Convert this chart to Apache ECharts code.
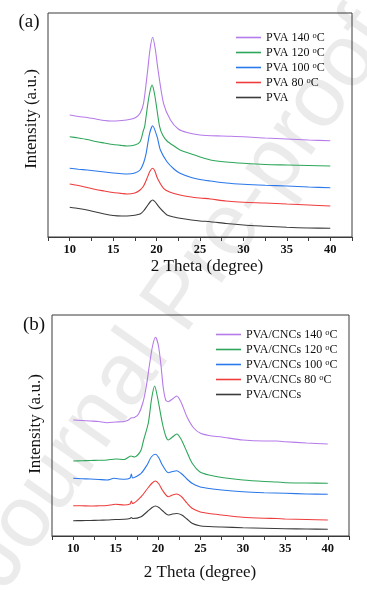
<!DOCTYPE html>
<html><head><meta charset="utf-8">
<script src="https://cdn.jsdelivr.net/npm/echarts@6/dist/echarts.min.js"></script>
<style>html,body{margin:0;padding:0;background:#fff}#c{width:367px;height:590px}</style>
</head><body><div id="c"></div>
<script>
// ---------- Data (2θ in degrees, intensity in arbitrary units) ----------
const xTicks = [10, 15, 20, 25, 30, 35, 40];
const namesA = ['PVA 140 °C', 'PVA 120 °C', 'PVA 100 °C', 'PVA 80 °C', 'PVA'];
const namesB = ['PVA/CNCs 140 °C', 'PVA/CNCs 120 °C', 'PVA/CNCs 100 °C', 'PVA/CNCs 80 °C', 'PVA/CNCs'];

const pva140 = [[10,122],[11,120.5],[12,119.5],[13,118],[14,116.5],[14.7,116],[16,116.5],[17,117.7],[17.6,119.5],[18.1,123.7],[18.5,133.7],[18.98,167],[19.25,188],[19.55,199.7],[19.85,188],[20.17,167],[20.8,133.7],[21.6,117],[22.5,108],[23.5,104.5],[25,102],[27.5,101],[30,100.3],[32.5,99],[35,98],[37.5,97],[40,96.3]];
const pva120 = [[10,100.3],[11,99],[12,97.5],[13,95.5],[14,94],[15,92.5],[16,91.5],[16.6,91],[17.5,92],[18.1,95.3],[18.5,107],[18.63,110.3],[19.0,133.7],[19.25,146],[19.48,152],[19.7,146],[19.94,133.7],[20.35,110.3],[20.7,102],[21.2,96],[22,91],[22.7,87],[24,83],[25,80],[26.2,77],[28,75],[30,73.7],[32.5,72.5],[35,72],[37.5,71.5],[40,71]];
const pva100 = [[10,68.7],[11,67.8],[12,67],[13,66],[14,65],[15,64],[16,63.3],[16.6,63],[17.5,64],[18.1,67],[18.5,74],[18.8,83.7],[19.2,103.7],[19.55,111.3],[20.06,100.3],[20.44,87],[21.2,75.3],[22,68],[22.7,63.7],[24,59.5],[25,57.5],[26.2,56],[28,54],[30,52.7],[32.5,51.7],[35,51],[37.5,50],[40,49.3]];
const pva80 = [[10,53],[11,51.5],[12,49.5],[13,47.5],[14,46],[15,44.5],[16,43.5],[16.6,43],[17.5,44],[18.1,47],[18.5,51],[18.9,58.7],[19.25,66],[19.55,68.7],[19.8,66],[20.1,58.7],[20.8,48.7],[21.5,45],[22.7,42],[24,40],[25,39],[26.2,38],[28,36],[30,34.7],[32.5,34],[35,33],[37.5,32],[40,31]];
const pva = [[10,29.7],[11,28.5],[12,27],[13,25],[14,23],[15,21.5],[16,21],[16.6,21],[17.5,21.8],[18.1,23],[18.5,26],[19,32],[19.3,35.5],[19.55,37],[19.85,35],[20.25,30.3],[20.7,26],[21.2,22],[22,20],[22.7,18.7],[24,17],[25,16],[26.2,15.3],[28,13.5],[30,12],[32.5,10.8],[35,9.7],[37.5,9],[40,8.7]];

const cnc140 = [[10,116],[11,115.5],[12,115],[13,114.5],[14,113.3],[15,114],[16,114.5],[16.5,116],[16.8,118],[17.2,118.5],[17.7,122],[18.2,133],[18.6,149],[19,172],[19.35,190],[19.7,198.7],[20.05,190],[20.35,170],[20.6,149],[20.9,136],[21.2,134.3],[21.7,137],[22.2,140],[22.7,134],[23.4,119.3],[24.2,108],[25,102.7],[26,100.5],[27.5,99],[30,96],[32.5,95],[34,95],[35,94.3],[37.5,93],[40,92]];
const cnc120 = [[10,75],[11,75.3],[12,75.5],[13,75.7],[14,76],[15,77],[16,76.5],[16.8,80],[17.2,79],[17.6,81],[18,86],[18.3,96],[18.85,113],[19.25,138],[19.6,150],[19.95,138],[20.5,113],[20.9,100],[21.2,96],[21.7,99],[22.2,102],[22.7,97],[23.4,84],[24,73],[24.9,64.3],[26,61],[27.5,58.5],[30,56],[32.5,54.5],[34,54],[35,53.3],[37.5,53],[40,52.7]];
const cnc100 = [[10,57.7],[11,57.3],[12,57],[13,56.5],[14,56],[14.8,57.7],[15.5,57],[16,56.7],[16.7,58],[16.85,62],[17,58],[18,62.7],[18.7,71],[19.2,79],[19.7,81.7],[20.1,78],[20.5,71],[21.2,63.3],[21.7,64.5],[22.2,65.3],[22.8,62],[23.4,57],[24,52.7],[24.9,49.3],[26,47.5],[27.5,46],[30,44.3],[32.5,43.3],[35,42.7],[37.5,42],[40,41.7]];
const cnc80 = [[10,30.3],[11,30.2],[12,30],[13,30.2],[14,30.5],[15,31.7],[16,31],[16.7,32],[16.85,35],[17,32.5],[18,39.3],[18.8,48],[19.3,53],[19.7,55],[20.1,52],[20.5,46],[21.2,39.3],[21.7,41],[22.2,42],[22.8,39],[23.4,33],[24,27.7],[24.9,24.3],[26,22.5],[27.5,21],[30,18.7],[32.5,17.7],[34,17.5],[35,17],[37.5,16.5],[40,16]];
const cnc = [[10,15.3],[11,15.4],[12,15.5],[13,15.7],[14,16],[15,16.5],[16,16.7],[16.7,17.5],[16.85,18.5],[17,17.5],[18,19.3],[18.8,25],[19.3,28.5],[19.7,30],[20.1,28.5],[20.5,25.5],[21.2,21],[21.7,22],[22.2,22.5],[22.8,21],[23.4,17],[24,12.7],[24.9,10.3],[26,9.5],[27.5,9],[30,8.3],[32.5,7.8],[35,7.3],[37.5,7],[40,6.7]];

const colors = ['#b57be9', '#2ea65a', '#2a78ea', '#ef3d3d', '#3b3b3b'];
const dataA = [pva140, pva120, pva100, pva80, pva];
const dataB = [cnc140, cnc120, cnc100, cnc80, cnc];

// ---------- Chart ----------
const SERIF = "'Liberation Serif','Times New Roman',serif";
const chart = echarts.init(document.getElementById('c'), null, {renderer: 'canvas'});

function xAxis(gi) {
  return {
    gridIndex: gi, type: 'value', min: 7.5, max: 42.5, interval: 2.5,
    axisLine: {show: true, lineStyle: {color: '#3a3a3a', width: 1}},
    axisTick: {show: true, inside: false, length: 4, lineStyle: {color: '#3a3a3a'}},
    splitLine: {show: false},
    axisLabel: {
      margin: 6, fontFamily: SERIF, fontWeight: 700, fontSize: 12.5, color: '#111',
      formatter: v => (xTicks.indexOf(v) >= 0 ? String(v) : '')
    }
  };
}
function yAxis(gi, max) {
  return {gridIndex: gi, type: 'value', min: 0, max: max,
    axisLine: {show: false}, axisTick: {show: false}, axisLabel: {show: false}, splitLine: {show: false}};
}
const supFmt = n => n.replace('°', '{s|o}');
function legend(top, left, names) {
  return {
    orient: 'vertical', top: top, left: left, padding: 0, itemGap: 2,
    icon: 'rect', itemWidth: 25, itemHeight: 1.6, data: names,
    formatter: supFmt, selectedMode: false,
    textStyle: {fontFamily: SERIF, fontSize: 12, color: '#111', lineHeight: 13,
      rich: {s: {fontFamily: SERIF, fontSize: 8.5, verticalAlign: 'top', lineHeight: 13, padding: [0, 0, 4, 0]}}}
  };
}
const series = [];
dataA.forEach((d, i) => series.push({name: namesA[i], type: 'line', xAxisIndex: 0, yAxisIndex: 0, data: d,
  showSymbol: false, smooth: 0.25, color: colors[i], lineStyle: {width: 1.1, color: colors[i]}, z: 10 - i}));
dataB.forEach((d, i) => series.push({name: namesB[i], type: 'line', xAxisIndex: 1, yAxisIndex: 1, data: d,
  showSymbol: false, smooth: 0.25, color: colors[i], lineStyle: {width: 1.1, color: colors[i]}, z: 10 - i}));

chart.setOption({
  animation: false,
  backgroundColor: '#fff',
  grid: [
    {left: 48, top: 13, width: 304, height: 224, show: true, borderColor: '#3a3a3a', borderWidth: 1, backgroundColor: 'transparent'},
    {left: 52, top: 315, width: 297, height: 221, show: true, borderColor: '#3a3a3a', borderWidth: 1, backgroundColor: 'transparent'}
  ],
  xAxis: [xAxis(0), xAxis(1)],
  yAxis: [yAxis(0, 224), yAxis(1, 221)],
  legend: [legend(31, 236, namesA), legend(328, 216, namesB)],
  graphic: [
    {type: 'text', z: -10, x: 180, y: 300, rotation: 0.96,
      style: {text: 'Journal Pre-proof', font: "88px 'Liberation Sans', Arial, sans-serif", fill: 'rgba(0,0,0,0.08)', align: 'center', verticalAlign: 'middle'}},
    {type: 'text', x: 29, y: 22, style: {text: '(a)', font: "19px " + SERIF, fill: '#111', align: 'center', verticalAlign: 'middle'}},
    {type: 'text', x: 34, y: 325, style: {text: '(b)', font: "19px " + SERIF, fill: '#111', align: 'center', verticalAlign: 'middle'}},
    {type: 'text', x: 207, y: 267, style: {text: '2 Theta (degree)', font: "17px " + SERIF, fill: '#111', align: 'center', verticalAlign: 'middle'}},
    {type: 'text', x: 200, y: 573, style: {text: '2 Theta (degree)', font: "17px " + SERIF, fill: '#111', align: 'center', verticalAlign: 'middle'}},
    {type: 'text', x: 32, y: 119, rotation: Math.PI / 2, style: {text: 'Intensity (a.u.)', font: "17px " + SERIF, fill: '#111', align: 'center', verticalAlign: 'middle'}},
    {type: 'text', x: 36, y: 424, rotation: Math.PI / 2, style: {text: 'Intensity (a.u.)', font: "17px " + SERIF, fill: '#111', align: 'center', verticalAlign: 'middle'}}
  ],
  series: series
});
</script></body></html>
